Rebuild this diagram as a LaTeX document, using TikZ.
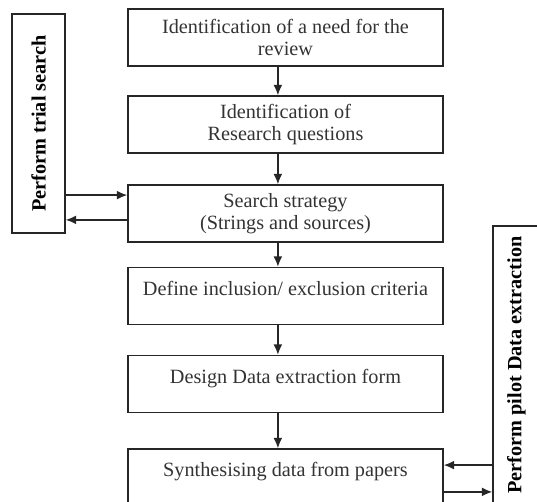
\documentclass[tikz,border=0pt]{standalone}
\usepackage{fontspec}
\setmainfont{Liberation Serif}
\usetikzlibrary{arrows.meta}
\tikzset{>={Latex[length=2.6mm,width=2.2mm]}}
\tikzset{
	% main column boxes
	stepbox/.style={draw=black!85,line width=1pt,text=black!80,align=center,
		minimum width=7.875cm,minimum height=1.425cm,inner sep=2pt,
		font=\fontsize{14.4}{16}\selectfont},
	% one line of text sits a bit high in its box
	highbox/.style={stepbox,text depth=4mm},
	% rotated side boxes
	sidebox/.style={draw=black!85,line width=1pt,text=black,rotate=90,
		inner sep=2pt,font=\fontsize{14.4}{16}\selectfont\bfseries},
	flow/.style={->,line width=1pt,black!85},
}
\begin{document}
\begin{tikzpicture}
\clip (0,0) rectangle (13.425,12.525);
\useasboundingbox (0,0) rectangle (13.425,12.525);
% the main column
\node[stepbox] (need) at (7.1375,11.5875) {Identification of a need for the\\review};
\node[stepbox] (rq) at (7.1375,9.4125) {Identification of\\Research questions};
\node[stepbox] (search) at (7.1375,7.1875) {Search strategy\\(Strings and sources)};
\node[highbox] (criteria) at (7.1375,5.125) {Define inclusion/ exclusion criteria};
\node[highbox] (form) at (7.1375,2.925) {Design Data extraction form};
\node[highbox] (synth) at (7.1375,0.5875) {Synthesising data from papers};
% the side boxes
\node[sidebox,minimum width=5.475cm,minimum height=1.325cm] (trial) at (0.9625,9.4375) {Perform trial search};
\node[sidebox,minimum width=6.95cm,minimum height=1.175cm] (pilot) at (12.9125,3.4) {Perform pilot Data extraction};
% arrows down the column
\foreach \a/\b in {need/rq,rq/search,search/criteria,criteria/form,form/synth}
  \draw[flow] ([xshift=-1.9mm]\a.south) -- ([xshift=-1.9mm]\b.north);
% arrows to and from the side boxes
\coordinate (s1) at ([yshift=4.6mm]search.west);
\coordinate (s2) at ([yshift=-1.6mm]search.west);
\draw[flow] (s1 -| trial.south) -- (s1);
\draw[flow] (s2) -- (s2 -| trial.south);
\coordinate (p1) at ([yshift=3.1mm]synth.east);
\coordinate (p2) at ([yshift=-3.6mm]synth.east);
\draw[flow] (p1 -| pilot.north) -- (p1);
\draw[flow] (p2) -- (p2 -| pilot.north);
\end{tikzpicture}
\end{document}
